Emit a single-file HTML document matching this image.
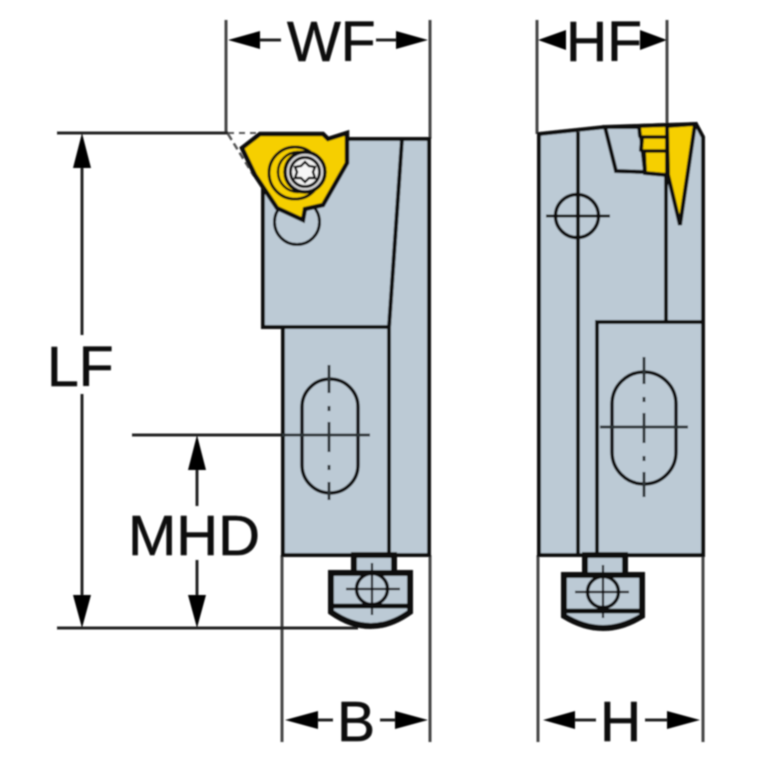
<!DOCTYPE html>
<html><head><meta charset="utf-8"><style>
html,body{margin:0;padding:0;background:#fff;width:767px;height:767px;overflow:hidden}
svg{display:block}
text{font-family:"Liberation Sans",sans-serif;fill:#0a0a0a;stroke:#0a0a0a;stroke-width:.6px;font-size:57px}
</style></head><body>
<svg width="767" height="767" viewBox="0 0 767 767" xmlns="http://www.w3.org/2000/svg">
<defs><filter id="b" x="-5%" y="-5%" width="110%" height="110%"><feGaussianBlur stdDeviation="0.7"/></filter></defs>
<g filter="url(#b)">
<!-- extension lines -->
<g stroke="#444" stroke-width="3" fill="none">
<path d="M226 20V133M430 20V139M537 20V134M667 20V125"/>
<path d="M282 555V742M430 555V742M538 555V742M703 555V742"/>
</g>
<g stroke="#222" stroke-width="3" fill="none">
<path d="M57 133H228M57 628H358M132 435H282"/>
<path d="M82 160V335M82 394V600M197 465V506M197 560V600"/>
<path d="M250 40H281M376 40H407M302 720H333M380 720H410M570 720H596M645 720H678"/>
</g>
<!-- arrowheads -->
<g fill="#000">
<path d="M82 133L73 168H91Z M82 628L73 595H91Z M197 435L188 470H206Z M197 628L188 595H206Z"/>
<path d="M228 40L260 31V49Z M428 40L396 31V49Z M538 40L566 30V50Z M667 40L640 30V50Z"/>
<path d="M285 720L318 711V729Z M428 720L395 711V729Z M543 720L575 711V729Z M700 720L667 711V729Z"/>
</g>
<!-- dashed inset -->
<path d="M228 134L254 176" stroke="#555" stroke-width="2.500" stroke-dasharray="7 4" fill="none"/>
<path d="M228 133H262" stroke="#555" stroke-width="2" stroke-dasharray="6 5" fill="none"/>
<!-- left body -->
<g stroke="#0a0a0a" stroke-width="4" stroke-linejoin="miter">
<path d="M263 139H429V555H283V327H263Z" fill="#bccad5"/>
<path d="M402 139L389 327V555M263 327H389" fill="none"/>
<circle cx="297" cy="222" r="22.500" fill="#bccad5" stroke-width="3"/>
<path d="M242 148L260 134H323L328 139L347 133V163L323 205L305 209L303 220L277 208L255 175Z" fill="#f6cf00" stroke-width="4.500"/>
<circle cx="295" cy="173" r="26" fill="none" stroke-width="3"/>
<circle cx="298" cy="172" r="20" fill="none" stroke-width="2.500"/>
<circle cx="305" cy="172" r="20" fill="#d6d6d6" stroke-width="3.500"/>
<circle cx="305" cy="172" r="14.500" fill="#f0f0f0" stroke-width="3"/>
<path d="M305 162L309 166L315 167L313 172L315 178L309 178L305 182L301 178L295 178L297 172L295 167L301 166Z" fill="#f6f6f6" stroke-width="2.500"/>
<!-- left slot -->
<rect x="302" y="379" width="56" height="114" rx="28" fill="#bccad5" stroke-width="3.500"/>
</g>
<g stroke="#2a3036" stroke-width="3" fill="none">
<path d="M282 435H370"/>
<path d="M329 365V393M329 406V411M329 422V452M329 465V470M329 482V500"/>
</g>
<!-- left bolt -->
<g stroke="#0a0a0a" stroke-width="6" stroke-linejoin="miter">
<path d="M354 555H394V574H354Z" fill="#bccad5"/>
<path d="M331 573H410V612Q371 640 331 612Z" fill="#bccad5"/>
<path d="M331 606H410" fill="none" stroke-width="5"/>
<circle cx="372" cy="589" r="15.500" fill="#bccad5" stroke-width="3.500"/>
<path d="M346 589H400M372 563V615" fill="none" stroke-width="2.200"/>
</g>
<!-- right body -->
<g stroke="#0a0a0a" stroke-width="4" stroke-linejoin="miter">
<path d="M539 134L605 127L696 124L703 137V555H539Z" fill="#bccad5"/>
<path d="M578 132V555" fill="none"/>
<path d="M666 175V321" fill="none"/>
<path d="M597 555V322H703V555Z" fill="#bccad5"/>
<path d="M605 127L640 127L645 172L616 171Z" fill="#bccad5"/>
<path d="M639 126L667 125V175L645 173L644 152L641 150L642 139L640 136Z" fill="#f6cf00"/>
<path d="M641 137L665 137M642 151L665 151" fill="none" stroke-width="3.500"/>
<path d="M667 126L695 124L680 225L668 175Z" fill="#f6cf00"/>
<circle cx="577" cy="216" r="21.500" fill="none" stroke-width="3.500"/>
<path d="M546 216H610" fill="none" stroke-width="3"/>
<rect x="612" y="372" width="64" height="112" rx="32" fill="#bccad5" stroke-width="3.500"/>
</g>
<g stroke="#2a3036" stroke-width="3" fill="none">
<path d="M600 427H688"/>
<path d="M644 357V384M644 397V402M644 413V443M644 456V461M644 472V497"/>
</g>
<!-- right bolt -->
<g stroke="#0a0a0a" stroke-width="6">
<path d="M585 555H625V576H585Z" fill="#bccad5"/>
<path d="M564 575H642V616Q603 640 564 616Z" fill="#bccad5"/>
<path d="M564 611H642" fill="none" stroke-width="5"/>
<circle cx="603" cy="592" r="15.500" fill="#bccad5" stroke-width="3.500"/>
<path d="M575 592H629M603 565V618" fill="none" stroke-width="2.200"/>
</g>
<text x="47" y="386">LF</text>
<text x="128" y="555" textLength="132" lengthAdjust="spacingAndGlyphs">MHD</text>
<text x="287" y="61">WF</text>
<text x="566" y="61">HF</text>
<text x="337" y="741">B</text>
<text x="600" y="741">H</text>
</g>
</svg>
</body></html>
